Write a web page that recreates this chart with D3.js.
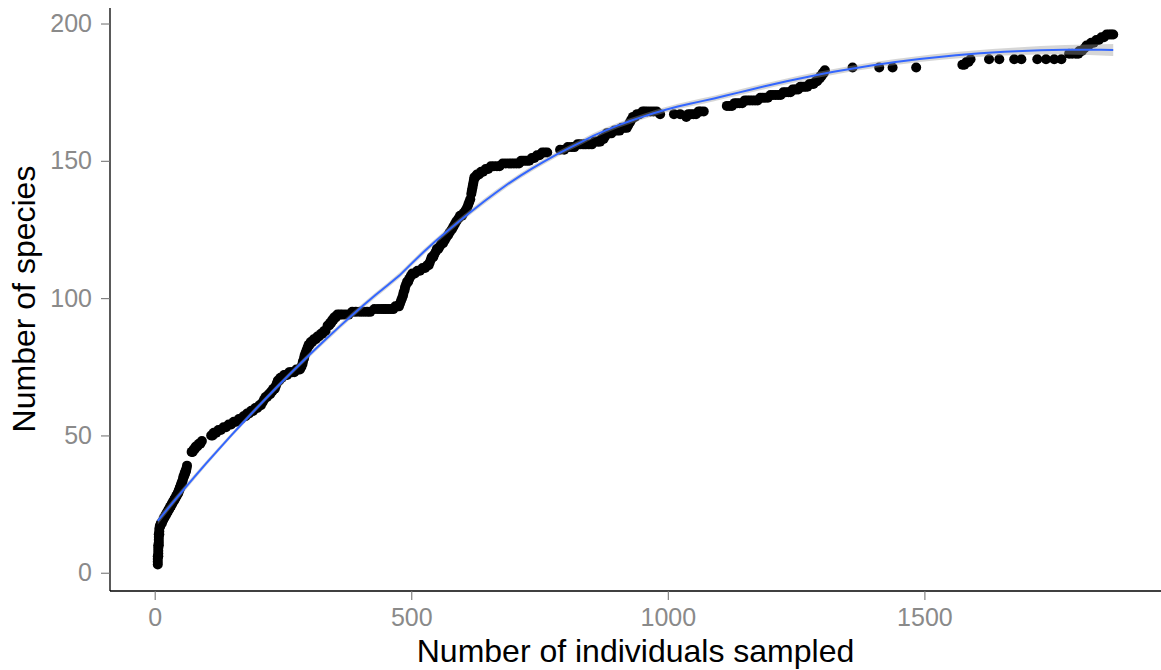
<!DOCTYPE html>
<html>
<head>
<meta charset="utf-8">
<script src="https://cdn.jsdelivr.net/npm/d3@7"></script>
<style>
  html, body { margin: 0; padding: 0; background: #fff; }
  svg { display: block; }
  text { font-family: "Liberation Sans", Arial, Helvetica, sans-serif; }
</style>
</head>
<body>
<svg id="chart" width="1161" height="670"></svg>
<script>
// Species accumulation: cumulative individuals sampled vs. cumulative species
const individuals = [
  6,6,6,6,7,7,7,7,7,8,8,8,8,8,9,9,9,10,11,12,14,16,
  18,19,21,22,24,25,27,28,30,31,33,34,36,37,39,40,42,43,45,46,47,48,49,50,51,52,53,54,55,56,57,58,59,60,61,62,63,
  72,74,76,78,80,83,86,89,92,
  110,113,115,120,124,129,134,139,144,149,154,159,164,168,173,177,180,184,188,192,196,200,204,207,210,213,216,
  219,222,225,227,229,231,234,236,238,240,243,245,248,252,255,258,262,265,268,272,276,280,283,286,288,289,291,292,
  294,296,298,300,302,304,307,310,314,317,320,324,327,330,333,337,340,342,344,346,348,350,353,356,
  361,366,372,378,385,392,400,407,414,420,428,435,441,446,450,455,460,465,469,473,476,478,480,482,484,485,487,488,
  490,492,494,496,499,502,507,512,517,522,527,531,534,536,538,540,543,545,548,550,553,556,559,562,565,568,572,575,
  579,582,585,588,592,595,599,602,606,609,611,613,615,617,618,619,620,621,622,623,625,628,632,636,640,645,650,655,
  661,667,672,678,684,690,695,700,705,710,714,718,722,726,730,735,740,745,750,755,760,765,
  790,798,805,812,818,824,829,835,840,846,852,857,862,865,868,871,875,878,881,886,890,896,901,906,910,915,920,923,
  926,929,932,936,940,945,951,955,960,966,972,978,
  985,1012,1024,1036,1040,1045,1050,1055,1060,1064,1070,
  1115,1120,1125,1130,1135,1140,1145,1150,1155,1160,1165,1170,1175,1180,1185,1190,1195,1200,1205,1210,1215,1220,
  1225,1230,1235,1239,1243,1247,1250,1254,1258,1261,1265,1268,1272,1276,1280,1284,1288,1291,1294,1296,1298,1300,
  1302,1304,1306,
  1360,1412,1438,1484,1574,1578,1582,1586,1590,1626,1646,1675,1689,1720,1737,1753,1767,
  1782,1788,1795,1800,1802,1807,1812,1816,1820,1825,1830,1835,1840,1845,1850,1855,1860,1864,1868
];
const species = [
  3,4,5,6,6,7,8,9,10,10,11,12,13,14,14,15,16,17,17,18,18,19,
  20,20,21,21,22,22,23,23,24,24,25,25,26,26,27,27,28,28,29,29,30,30,31,31,32,32,33,33,34,35,35,36,36,37,37,38,39,
  44,44,45,45,46,46,47,47,48,
  50,50,51,51,52,52,53,53,54,54,55,55,56,56,57,57,58,58,59,59,60,60,61,61,62,63,64,
  64,65,65,66,66,67,67,68,69,70,70,71,71,72,72,72,73,73,73,73,74,74,74,75,76,77,78,79,
  80,81,82,83,83,84,84,85,85,86,86,87,87,88,88,90,90,91,91,92,92,93,93,94,
  94,94,94,94,95,95,95,95,95,95,96,96,96,96,96,96,96,96,97,97,97,98,99,100,101,102,103,104,
  105,106,106,107,108,109,109,110,110,111,111,112,112,113,114,115,115,116,117,118,118,119,120,120,121,122,123,124,
  125,126,127,128,129,130,130,131,132,133,134,135,136,138,139,140,141,142,143,144,144,145,145,146,146,147,147,148,
  148,148,148,149,149,149,149,149,149,149,150,150,150,150,150,151,151,152,152,153,153,153,
  154,154,155,155,155,156,156,156,156,156,156,157,157,157,157,158,158,159,160,160,160,161,161,161,162,162,162,163,
  164,165,166,166,167,167,168,168,168,168,168,168,
  167,167,167,166,167,167,167,167,168,168,168,
  170,170,170,171,171,171,171,172,172,172,172,172,172,173,173,173,173,174,174,174,174,174,
  175,175,175,175,176,176,176,176,177,177,177,177,177,178,178,178,179,179,180,180,181,181,
  182,182,183,
  184,184,184,184,185,185,186,186,187,187,187,187,187,187,187,187,187,
  189,189,189,189,190,190,191,192,192,193,193,194,194,195,195,196,196,196,196
];
const xTicks = [0, 500, 1000, 1500];
const yTicks = [0, 50, 100, 150, 200];
const xTitle = "Number of individuals sampled";
const yTitle = "Number of species";

const data = individuals.map((x, i) => ({ x, y: species[i] }));

const svg = d3.select("#chart");
const panel = { left: 110, right: 1161, top: 8, bottom: 591 };

// ggplot-style 5% expansion of the data range
const xExt = d3.extent(individuals), yExt = d3.extent(species);
const xPad = (xExt[1] - xExt[0]) * 0.05, yPad = (yExt[1] - yExt[0]) * 0.05;
const x = d3.scaleLinear().domain([xExt[0] - xPad, xExt[1] + xPad]).range([panel.left, panel.right]);
const y = d3.scaleLinear().domain([yExt[0] - yPad, yExt[1] + yPad]).range([panel.bottom, panel.top]);

// LOESS (span 0.75, local quadratic, tricube weights) with standard errors
function loess(xs, ys, span, evalX) {
  const n = xs.length;
  const q = Math.floor(span * n);
  function localRow(x0) {
    const d = xs.map(v => Math.abs(v - x0)).sort((a, b) => a - b);
    const h = d[Math.min(q, n) - 1] || 1;
    const w = xs.map(v => { const u = Math.abs(v - x0) / h; return u < 1 ? Math.pow(1 - u * u * u, 3) : 0; });
    const M = [[0,0,0],[0,0,0],[0,0,0]];
    for (let i = 0; i < n; i++) {
      const t = (xs[i] - x0) / h, b = [1, t, t * t];
      for (let a = 0; a < 3; a++) for (let c = 0; c < 3; c++) M[a][c] += w[i] * b[a] * b[c];
    }
    const inv = invert3(M);
    const l = new Array(n);
    for (let i = 0; i < n; i++) {
      const t = (xs[i] - x0) / h;
      l[i] = w[i] * (inv[0][0] + inv[0][1] * t + inv[0][2] * t * t);
    }
    return l;
  }
  // residual scale from the fit at the observations
  let rss = 0, tr = 0;
  for (let i = 0; i < n; i++) {
    const l = localRow(xs[i]);
    let f = 0; for (let j = 0; j < n; j++) f += l[j] * ys[j];
    rss += (ys[i] - f) ** 2; tr += l[i];
  }
  const sigma = Math.sqrt(rss / (n - tr));
  const tq = 1.97;
  return evalX.map(x0 => {
    const l = localRow(x0);
    let f = 0, ss = 0;
    for (let j = 0; j < n; j++) { f += l[j] * ys[j]; ss += l[j] * l[j]; }
    const se = sigma * Math.sqrt(ss);
    return { x: x0, y: f, lo: f - tq * se, hi: f + tq * se };
  });
}
function invert3(m) {
  const [a, b, c] = m[0], [d, e, f] = m[1], [g, h, k] = m[2];
  const A = e * k - f * h, B = -(d * k - f * g), C = d * h - e * g;
  const det = a * A + b * B + c * C;
  return [
    [A / det, -(b * k - c * h) / det, (b * f - c * e) / det],
    [B / det, (a * k - c * g) / det, -(a * f - c * d) / det],
    [C / det, -(a * h - b * g) / det, (a * e - b * d) / det]
  ];
}

const grid = d3.range(80).map(i => xExt[0] + (xExt[1] - xExt[0]) * i / 79);
const smooth = loess(individuals, species, 0.75, grid);

// points
svg.append("g").selectAll("circle").data(data).join("circle")
  .attr("cx", d => x(d.x)).attr("cy", d => y(d.y)).attr("r", 5)
  .attr("fill", "#000");

// confidence ribbon + smoother
svg.append("path").datum(smooth)
  .attr("d", d3.area().x(d => x(d.x)).y0(d => y(d.lo)).y1(d => y(d.hi)))
  .attr("fill", "#999").attr("fill-opacity", 0.4);
svg.append("path").datum(smooth)
  .attr("d", d3.line().x(d => x(d.x)).y(d => y(d.y)))
  .attr("fill", "none").attr("stroke", "#3366FF").attr("stroke-width", 2);

// axes
const xAxis = svg.append("g").attr("transform", `translate(0,${panel.bottom})`)
  .call(d3.axisBottom(x).tickValues(xTicks).tickSize(9).tickPadding(8).tickFormat(d3.format("d")));
const yAxis = svg.append("g").attr("transform", `translate(${panel.left},0)`)
  .call(d3.axisLeft(y).tickValues(yTicks).tickSize(9).tickPadding(9).tickFormat(d3.format("d")));
[xAxis, yAxis].forEach(g => {
  g.select(".domain").attr("stroke", "#000").attr("stroke-width", 1.3);
  g.selectAll(".tick line").attr("stroke", "#777").attr("stroke-width", 1.1);
  g.selectAll(".tick text").attr("fill", "#8a8a8a").attr("font-size", 25)
    .attr("font-family", "Liberation Sans, Arial, sans-serif");
});
xAxis.select(".domain").attr("d", `M${panel.left},0H${panel.right}`);
yAxis.select(".domain").attr("d", `M0,${panel.top}V${panel.bottom}`);

// titles
svg.append("text").attr("x", (panel.left + panel.right) / 2).attr("y", 662)
  .attr("text-anchor", "middle").attr("font-size", 32).attr("fill", "#000").text(xTitle);
svg.append("text").attr("transform", `translate(35,299) rotate(-90)`)
  .attr("text-anchor", "middle").attr("font-size", 32).attr("fill", "#000").text(yTitle);
</script>
</body>
</html>
